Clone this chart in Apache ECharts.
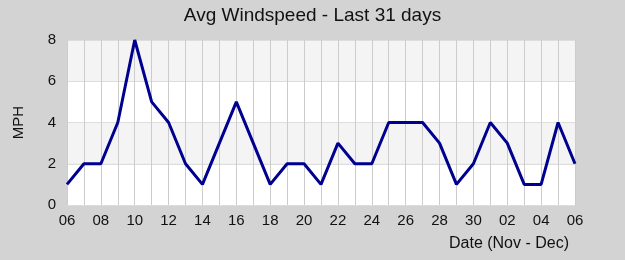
<!DOCTYPE html>
<html><head><meta charset="utf-8">
<script src="https://cdn.jsdelivr.net/npm/echarts@6/dist/echarts.min.js"></script>
<style>html,body{margin:0;padding:0;background:#d3d3d3}#c{width:625px;height:260px}</style>
</head><body><div id="c"></div>
<script>
const categories = ['06','07','08','09','10','11','12','13','14','15','16','17','18','19','20','21','22','23','24','25','26','27','28','29','30','01','02','03','04','05','06'];
const windspeed = [1,2,2,4,8,5,4,2,1,3,5,3,1,2,2,1,3,2,2,4,4,4,3,1,2,4,3,1,1,4,2];
const yTicks = {min:0, max:8, interval:2};
const chart = echarts.init(document.getElementById('c'));
const font = 'Liberation Sans, Arial, sans-serif';
chart.setOption({
  backgroundColor:'#d3d3d3',
  animation:false,
  title:[
    {text:'Avg Windspeed - Last 31 days', left:'center', top:1, textStyle:{fontFamily:font, fontSize:19, fontWeight:'normal', color:'#111'}},
    {text:'Date (Nov - Dec)', right:51, top:231, textStyle:{fontFamily:font, fontSize:16, fontWeight:'normal', color:'#111'}}
  ],
  grid:{left:67, right:50, top:40, bottom:55},
  xAxis:{
    type:'category', data:categories, boundaryGap:false,
    axisLine:{show:false}, axisTick:{show:false},
    axisLabel:{interval:1, margin:8, fontFamily:font, fontSize:15, color:'#111'},
    splitLine:{show:true, interval:0, lineStyle:{color:'#cccccc', width:1}}
  },
  yAxis:{
    type:'value', min:yTicks.min, max:yTicks.max, interval:yTicks.interval,
    name:'MPH', nameLocation:'middle', nameGap:41, nameTextStyle:{fontFamily:font, fontSize:15, color:'#111'},
    axisLine:{show:false}, axisTick:{show:false},
    axisLabel:{margin:11, fontFamily:font, fontSize:15, color:'#111'},
    splitLine:{show:true, lineStyle:{color:'#dddddd', width:1}},
    splitArea:{show:true, areaStyle:{color:['#ffffff','#f4f4f4']}}
  },
  series:[{type:'line', data:windspeed, showSymbol:false, symbol:'none', lineStyle:{color:'#000090', width:3}, z:5}]
});
</script></body></html>
